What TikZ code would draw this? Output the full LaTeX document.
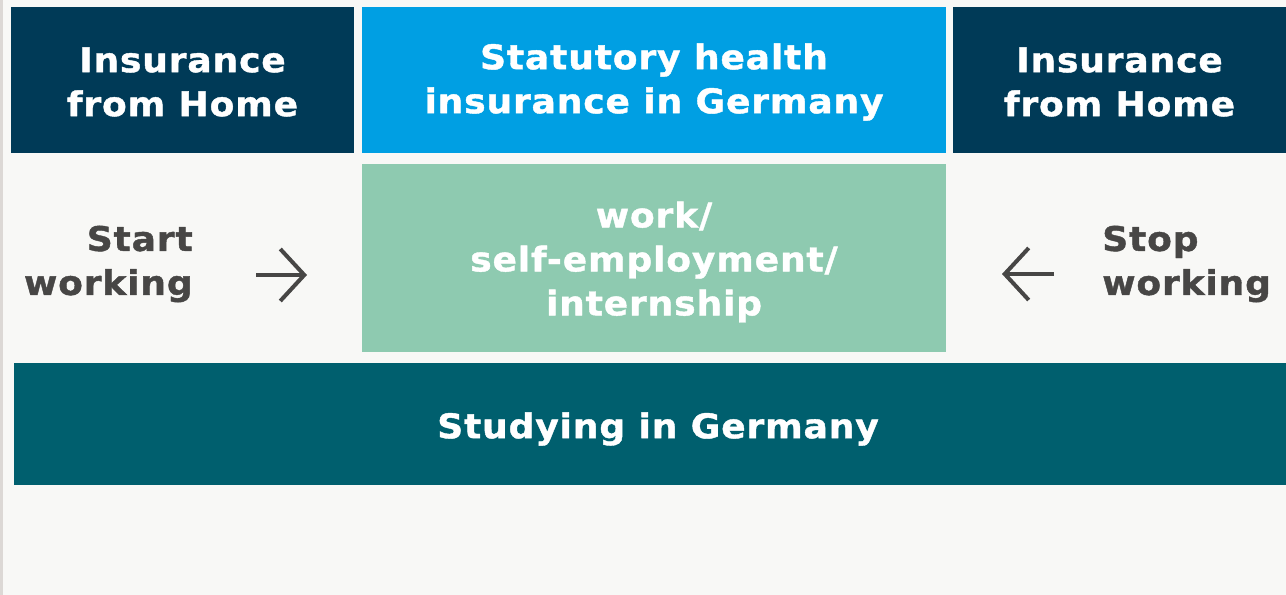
\documentclass[tikz,border=0pt]{standalone}
\usepackage{fontspec}
\setmainfont{DejaVu Sans}[BoldFeatures={FakeStretch=1.06, LetterSpace=2.5, FakeBold=1.2}]
\usetikzlibrary{arrows.meta}

\definecolor{bgcol}{HTML}{F8F8F6}
\definecolor{edgecol}{HTML}{DCD8D5}
\definecolor{navy}{HTML}{003A57}
\definecolor{skyblue}{HTML}{009FE3}
\definecolor{mint}{HTML}{8ECAB0}
\definecolor{petrol}{HTML}{005F6E}
\definecolor{greytext}{HTML}{474645}

\tikzset{
  box/.style={inner sep=0pt},
  boxtext/.style={inner sep=0pt, align=center, text=white,
    font=\fontsize{25.5}{33}\selectfont\bfseries},
  sidetext/.style={inner sep=0pt, text=greytext,
    font=\fontsize{25.5}{33}\selectfont\bfseries},
  sidearrow/.style={draw=greytext, line width=3pt,
    -{Straight Barb[length=18pt,width=39pt]}}
}

\begin{document}
\begin{tikzpicture}[x=0.75pt,y=-0.75pt]
  % background
  \fill[bgcol] (0,0) rectangle (1286,595);
  \fill[edgecol] (0,0) rectangle (3,595);
  \useasboundingbox (0,0) rectangle (1286,595);

  % Top row
  \node[box, fill=navy, minimum width=257.25pt, minimum height=109.5pt,
    label={[boxtext, yshift=-1.5pt]center:{Insurance\\from Home}}]
    (home1) at (182.5,80) {};
  \node[box, fill=skyblue, minimum width=438pt, minimum height=109.5pt,
    label={[boxtext, yshift=-1.5pt]center:{Statutory health\\insurance in Germany}}]
    (statutory) at (654,80) {};
  \node[box, fill=navy, minimum width=249.75pt, minimum height=109.5pt,
    label={[boxtext, yshift=-1.5pt]center:{Insurance\\from Home}}]
    (home2) at (1119.5,80) {};

  % Middle row
  \node[box, fill=mint, minimum width=438pt, minimum height=141pt,
    label={[boxtext, yshift=-3pt]center:{work/\\self-employment/\\internship}}]
    (work) at (654,258) {};
  \node[sidetext, anchor=east, align=right] (start) at (193,264) {Start\\working};
  \node[sidetext, anchor=west, align=left] (stop) at (1102,264) {Stop\\working};

  % Arrows
  \coordinate (startfrom) at (256,275);
  \coordinate (startto) at (307,275);
  \coordinate (stopfrom) at (1054,274);
  \coordinate (stopto) at (1002,274);
  \draw[sidearrow] (startfrom) -- (startto);
  \draw[sidearrow] (stopfrom) -- (stopto);

  % Bottom bar
  \node[box, fill=petrol, minimum width=954pt, minimum height=91.5pt,
    label={[boxtext, xshift=6pt, yshift=-3.75pt]center:{Studying in Germany}}]
    (studying) at (650,424) {};
\end{tikzpicture}
\end{document}
